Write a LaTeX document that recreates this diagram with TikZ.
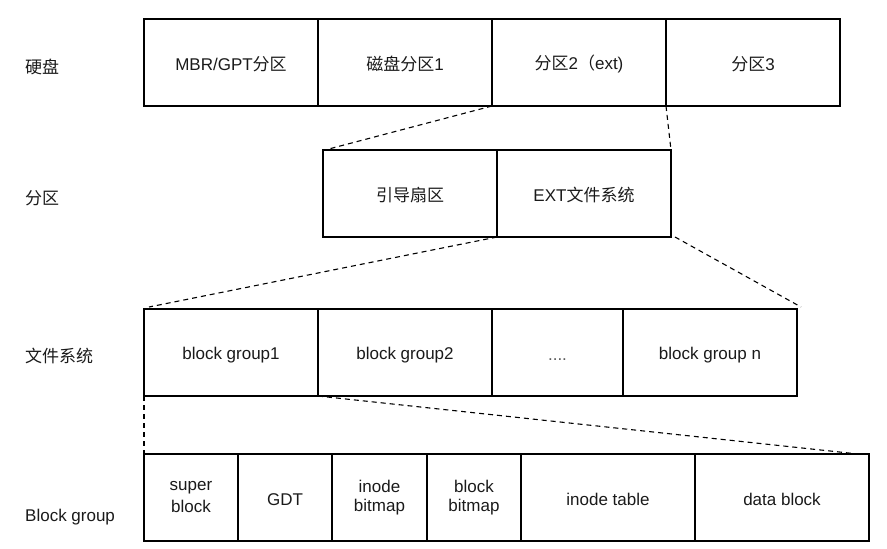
\documentclass[tikz,border=0pt]{standalone}
\usepackage{fontspec}
\setmainfont{Liberation Sans}
\newfontfamily\cjk{Noto Sans CJK SC}
\usetikzlibrary{positioning}

\definecolor    {lineColor}{RGB}{  0,   0,   0}
\definecolor    {textColor}{RGB}{ 26,  26,  26}
\definecolor{dotsTextColor}{RGB}{ 90,  90,  90}

\newcommand*\zh[1]{{\cjk #1}}
\newcommand*\cellStrut{\rule[-1.25pt]{0pt}{18.25pt}} % one text line, centred like the boxes

\begin{document}
\begin{tikzpicture}[
  x=1pt, y=-1pt,
  layout cell/.style ={draw=lineColor, line width=1.3pt, outer sep=0pt, inner sep=0pt,
                       minimum height=87, minimum width=174, align=center,
                       text=textColor, font=\fontsize{17}{19.5}\selectfont,
                       execute at begin node=\cellStrut},
  layout label/.style={anchor=base west, inner sep=0pt, text=textColor,
                       font=\fontsize{17}{19.5}\selectfont},
  layout link/.style ={draw=lineColor, line width=1.1pt, dash pattern=on 5pt off 4pt},
]
%%%%%%%%%%%%%%%%%%%%%%%%%%%%%%%%%%%%%%%%%%%%%%%%%%%%%%%%%%%%%%%%%%%%%%%%%%%%%%%%%%%%%%%%%
%
%   CANVAS
%
%%%%%%%%%%%%%%%%%%%%%%%%%%%%%%%%%%%%%%%%%%%%%%%%%%%%%%%%%%%%%%%%%%%%%%%%%%%%%%%%%%%%%%%%%
\useasboundingbox (0,0) rectangle (887,549);

%%%%%%%%%%%%%%%%%%%%%%%%%%%%%%%%%%%%%%%%%%%%%%%%%%%%%%%%%%%%%%%%%%%%%%%%%%%%%%%%%%%%%%%%%
%
%   ROWS
%
%%%%%%%%%%%%%%%%%%%%%%%%%%%%%%%%%%%%%%%%%%%%%%%%%%%%%%%%%%%%%%%%%%%%%%%%%%%%%%%%%%%%%%%%%
% disk
\node[layout cell, anchor=north west] (mbr) at (144,19) {MBR/GPT\zh{分区}};
\node[layout cell, right=0pt of mbr]   (part1) {\zh{磁盘分区}1};
\node[layout cell, right=0pt of part1] (part2) {\zh{分区}2\zh{（}ext)};
\node[layout cell, right=0pt of part2] (part3) {\zh{分区}3};

% partition
\node[layout cell, anchor=north west] (boot) at (323,150) {\zh{引导扇区}};
\node[layout cell, right=0pt of boot] (extfs) {EXT\zh{文件系统}};

% file system
\node[layout cell, anchor=north west] (bg1) at (144,309) {block group1};
\node[layout cell, right=0pt of bg1] (bg2) {block group2};
\node[layout cell, right=0pt of bg2, minimum width=131, text=dotsTextColor] (bgDots) {....};
\node[layout cell, right=0pt of bgDots] (bgN) {block group n};

% block group
\node[layout cell, anchor=north west, minimum width=94] (super) at (144,454) {super\\\cellStrut block};
\node[layout cell, right=0pt of super, minimum width=94]  (gdt)      {GDT};
\node[layout cell, right=0pt of gdt, minimum width=95]    (inodeMap) {inode\\\cellStrut bitmap};
\node[layout cell, right=0pt of inodeMap, minimum width=94] (blockMap) {block\\\cellStrut bitmap};
\node[layout cell, right=0pt of blockMap] (inodeTable) {inode table};
\node[layout cell, right=0pt of inodeTable] (data) {data block};

%% row labels
\node[layout label] (lblDisk)  at (25,73)  {\zh{硬盘}};
\node[layout label] (lblPart)  at (25,204) {\zh{分区}};
\node[layout label] (lblFs)    at (25,362) {\zh{文件系统}};
\node[layout label] (lblGroup) at (25,521) {Block group};

%% zoom links
\draw[layout link] (part2.south west) -- ([xshift=2pt]boot.north west);
\draw[layout link] (part2.south east) -- (extfs.north east);
\draw[layout link] (extfs.south west) -- ([xshift=5pt, yshift=2pt]bg1.north west);
\draw[layout link] ([xshift=4pt]extfs.south east) -- ([xshift=4pt, yshift=2pt]bgN.north east);
\draw[layout link] (bg1.south west) -- (super.north west);
\draw[layout link] (bg1.south east) -- ([xshift=-11pt]data.north east);

\end{tikzpicture}
\end{document}
